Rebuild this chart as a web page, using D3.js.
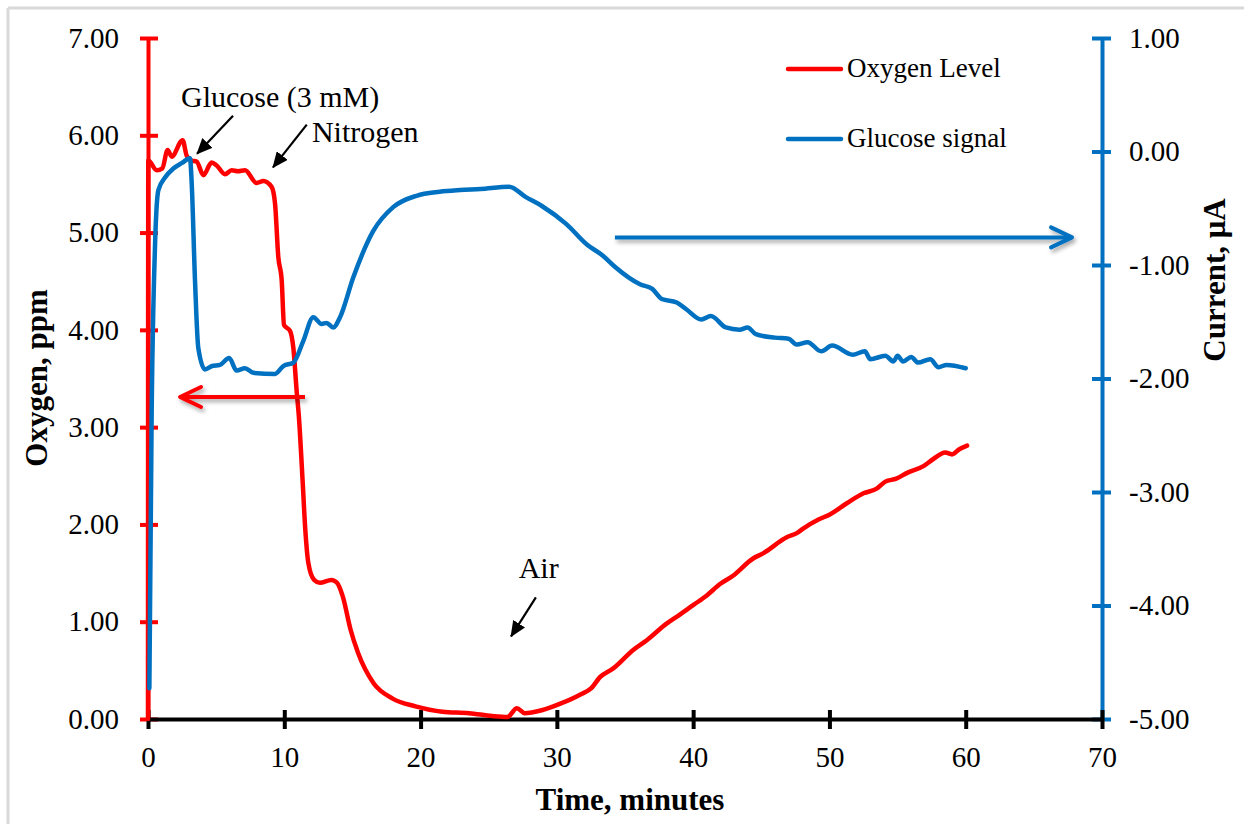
<!DOCTYPE html>
<html>
<head>
<meta charset="utf-8">
<script src="https://cdn.jsdelivr.net/npm/d3@7"></script>
<style>
  body { margin: 0; background: #fff; }
  svg { display: block; font-family: "Liberation Serif", "Times New Roman", serif; }
</style>
</head>
<body>
<div id="chart"></div>
<script>
var w = 1244;
var h = 824;

// oxygen level (ppm), left axis
var oxyTime = [0, 0.02, 0.64, 1.05, 1.44, 1.74, 2.54, 2.84, 3.2, 3.57, 4.06, 4.67, 5.04, 5.65, 6.14, 6.6, 7.12,
    7.97, 8.46, 9.07, 9.32, 9.56, 9.81, 9.98, 10.42, 10.66, 10.92, 11.06, 11.34, 11.54, 11.77, 12.19, 12.61,
    13.46, 13.87, 14.29, 14.86, 15.41, 16.54, 17.95, 19.63, 21.6, 23.56, 25.25, 26.37, 27.07, 27.63, 28.89,
    30.3, 31.7, 32.55, 33.16, 34.14, 35.6, 36.6, 38.05, 39.0, 40.0, 41.0, 42.0, 42.9, 44.4, 45.1, 46.9, 47.6,
    48.1, 49.2, 50.0, 51.3, 52.5, 53.5, 54.1, 54.9, 55.7, 56.9, 57.6, 58.5, 59.0, 59.5, 60.1];
var oxyLevel = [0, 5.74, 5.64, 5.66, 5.85, 5.78, 5.95, 5.79, 5.74, 5.73, 5.59, 5.72, 5.69, 5.6, 5.64, 5.63, 5.64,
    5.51, 5.53, 5.47, 5.3, 4.75, 4.51, 4.05, 3.99, 3.82, 3.35, 3.13, 2.46, 1.95, 1.6, 1.43, 1.40,
    1.43, 1.40, 1.26, 0.92, 0.68, 0.37, 0.21, 0.13, 0.075, 0.06, 0.03, 0.02, 0.11, 0.06, 0.09,
    0.16, 0.25, 0.32, 0.43, 0.52, 0.71, 0.81, 0.98, 1.07, 1.17, 1.27, 1.39, 1.47, 1.65, 1.70, 1.87, 1.91,
    1.96, 2.05, 2.10, 2.22, 2.32, 2.37, 2.44, 2.47, 2.53, 2.60, 2.67, 2.74, 2.72, 2.77, 2.81];

// glucose signal current (uA), right axis
var glucTime = [0.1, 0.27, 0.51, 0.76, 1.25, 1.86, 2.5, 3.08, 3.2, 3.45, 3.69, 4.18, 4.7, 5.28, 5.96, 6.5, 7.12,
    7.73, 9.32, 9.93, 10.67, 11.39, 12.13, 12.74, 13.1, 13.59, 14.09, 15.06, 16.53, 17.99, 19.7, 21.4, 22.9,
    24.4, 26.5, 27.7, 28.9, 30.7, 32.2, 33.4, 34.3, 36.1, 37.0, 37.7, 38.8, 39.5, 40.6, 41.3, 42.4, 43.4,
    44.0, 44.6, 46.0, 47.0, 47.6, 48.4, 49.4, 50.2, 51.7, 52.6, 53.0, 54.1, 54.7, 55.0, 55.4, 56.0, 56.5,
    57.4, 58.0, 58.6, 60.0];
var glucCurrent = [-4.73, -2.29, -0.85, -0.34, -0.23, -0.15, -0.10, -0.06, -0.26, -1.14, -1.73, -1.92, -1.89, -1.88, -1.82, -1.93, -1.91,
    -1.95, -1.96, -1.89, -1.86, -1.67, -1.46, -1.52, -1.51, -1.55, -1.46, -1.11, -0.70, -0.49, -0.39, -0.355, -0.34,
    -0.33, -0.31, -0.40, -0.48, -0.64, -0.82, -0.92, -1.02, -1.17, -1.21, -1.30, -1.33, -1.39, -1.48, -1.45, -1.55, -1.57,
    -1.55, -1.61, -1.64, -1.65, -1.70, -1.68, -1.76, -1.71, -1.79, -1.76, -1.83, -1.80, -1.85, -1.80, -1.85, -1.81, -1.86,
    -1.83, -1.90, -1.88, -1.91];

var xTicks = [0, 10, 20, 30, 40, 50, 60, 70];
var leftTicks = [0, 1, 2, 3, 4, 5, 6, 7];
var rightTicks = [1, 0, -1, -2, -3, -4, -5];

var seriesNames = ["Oxygen Level", "Glucose signal"];
var seriesColors = ["#ff0000", "#0070c0"];

// annotation labels with arrows, in data units (left axis)
var noteText = ["Glucose (3 mM)", "Nitrogen", "Air"];
var noteTextPos = [[2.42, 6.29], [12.03, 5.93], [27.2, 1.45]];
var noteArrowFrom = [[6.24, 6.20], [11.65, 6.11], [28.46, 1.25]];
var noteArrowTo = [[3.6, 5.81], [9.17, 5.67], [26.64, 0.85]];

var serif = "'Liberation Serif', 'Times New Roman', serif";

// plain hyphen for negatives, like the original
function fmt2(d) { return d.toFixed(2); }

function styleTicks(g) {
    g.attr("font-family", serif).attr("font-size", 29);
    g.selectAll(".tick text")
        .style("font-family", serif)
        .style("font-size", "29px")
        .attr("fill", "#000");
}

var svg = d3.select("#chart")
    .append("svg")
    .attr("width", w)
    .attr("height", h);

var defs = svg.append("defs");
defs.append("marker")
    .attr("id", "headBlack")
    .attr("markerUnits", "userSpaceOnUse")
    .attr("viewBox", "0 -7 16 14")
    .attr("refX", 15)
    .attr("refY", 0)
    .attr("markerWidth", 16)
    .attr("markerHeight", 14)
    .attr("orient", "auto")
    .append("path")
    .attr("d", "M0,-7L16,0L0,7Z")
    .attr("fill", "#000");

var shadow = defs.append("filter")
    .attr("id", "shadow")
    .attr("x", "-10%").attr("y", "-100%")
    .attr("width", "120%").attr("height", "300%");
shadow.append("feDropShadow")
    .attr("dx", 2).attr("dy", 3)
    .attr("stdDeviation", 2)
    .attr("flood-color", "#000")
    .attr("flood-opacity", 0.35);

// frame edge of the original picture
svg.append("line")
    .attr("x1", 8).attr("y1", 8).attr("x2", 8).attr("y2", h)
    .attr("stroke", "#d9d9d9").attr("stroke-width", 3);
svg.append("line")
    .attr("x1", 8).attr("y1", 8).attr("x2", w).attr("y2", 8)
    .attr("stroke", "#d9d9d9").attr("stroke-width", 3);

var xScale = d3.scaleLinear().domain([0, 70]).range([148, 1102]);
var yLeft = d3.scaleLinear().domain([0, 7]).range([719, 38]);
var yRight = d3.scaleLinear().domain([-5, 1]).range([719, 38]);

// left axis
var gLeft = svg.append("g")
    .attr("transform", "translate(148,0)")
    .call(d3.axisLeft(yLeft).tickValues(leftTicks).tickFormat(fmt2)
        .tickSize(0).tickSizeOuter(0).tickPadding(29));
styleTicks(gLeft);
gLeft.select(".domain").attr("stroke", "#ff0000").attr("stroke-width", 4);
gLeft.selectAll(".tick").append("line")
    .attr("x1", -8).attr("x2", 10)
    .attr("stroke", "#ff0000").attr("stroke-width", 4);

// right axis
var gRight = svg.append("g")
    .attr("transform", "translate(1102,0)")
    .call(d3.axisRight(yRight).tickValues(rightTicks).tickFormat(fmt2)
        .tickSize(0).tickSizeOuter(0).tickPadding(27));
styleTicks(gRight);
gRight.select(".domain").attr("stroke", "#0070c0").attr("stroke-width", 4);
gRight.selectAll(".tick").append("line")
    .attr("x1", -10).attr("x2", 9)
    .attr("stroke", "#0070c0").attr("stroke-width", 4);

// bottom axis
var gX = svg.append("g")
    .attr("transform", "translate(0,719)")
    .call(d3.axisBottom(xScale).tickValues(xTicks).tickFormat(d3.format("d"))
        .tickSize(0).tickSizeOuter(0).tickPadding(27));
styleTicks(gX);
gX.select(".domain").attr("stroke", "#000").attr("stroke-width", 4);
gX.selectAll(".tick").append("line")
    .attr("y1", -9).attr("y2", 10)
    .attr("stroke", "#000").attr("stroke-width", 4);

// axis titles
svg.append("text")
    .attr("transform", "translate(47,378) rotate(-90)")
    .attr("text-anchor", "middle")
    .style("font-size", "31px").style("font-weight", "bold")
    .text("Oxygen, ppm");
svg.append("text")
    .attr("transform", "translate(1225,280) rotate(-90)")
    .attr("text-anchor", "middle")
    .style("font-size", "31px").style("font-weight", "bold")
    .text("Current, μA");
svg.append("text")
    .attr("x", 630).attr("y", 810)
    .attr("text-anchor", "middle")
    .style("font-size", "31px").style("font-weight", "bold")
    .text("Time, minutes");

// series
var oxyData = oxyTime.map(function(t, i) { return {t: t, v: oxyLevel[i]}; });
var glucData = glucTime.map(function(t, i) { return {t: t, v: glucCurrent[i]}; });

svg.append("path")
    .datum(oxyData)
    .attr("fill", "none")
    .attr("stroke", seriesColors[0])
    .attr("stroke-width", 4.5)
    .attr("stroke-linejoin", "round")
    .attr("stroke-linecap", "round")
    .attr("d", d3.line()
        .curve(d3.curveMonotoneX)
        .x(function(d) { return xScale(d.t); })
        .y(function(d) { return yLeft(d.v); }));

svg.append("path")
    .datum(glucData)
    .attr("fill", "none")
    .attr("stroke", seriesColors[1])
    .attr("stroke-width", 4.5)
    .attr("stroke-linejoin", "round")
    .attr("stroke-linecap", "round")
    .attr("d", d3.line()
        .curve(d3.curveMonotoneX)
        .x(function(d) { return xScale(d.t); })
        .y(function(d) { return yRight(d.v); }));

// axis pointer arrows (red -> left axis, blue -> right axis)
function bigArrow(x1, x2, y, color, dir) {
    var g = svg.append("g").attr("filter", "url(#shadow)");
    g.append("line")
        .attr("x1", x1).attr("y1", y).attr("x2", x2).attr("y2", y)
        .attr("stroke", color).attr("stroke-width", 4);
    g.append("path")
        .attr("d", "M" + (x2 - dir * 21) + "," + (y - 10) + "L" + x2 + "," + y + "L" + (x2 - dir * 21) + "," + (y + 10))
        .attr("fill", "none")
        .attr("stroke", color).attr("stroke-width", 4)
        .attr("stroke-linecap", "round").attr("stroke-linejoin", "round");
}
bigArrow(xScale(11.52), xScale(2.35), yLeft(3.31), seriesColors[0], -1);
bigArrow(xScale(34.26), xScale(67.8), yRight(-0.757), seriesColors[1], 1);

// annotations
noteText.forEach(function(txt, i) {
    svg.append("text")
        .attr("x", xScale(noteTextPos[i][0]))
        .attr("y", yLeft(noteTextPos[i][1]))
        .style("font-size", "30px")
        .text(txt);
    svg.append("line")
        .attr("x1", xScale(noteArrowFrom[i][0]))
        .attr("y1", yLeft(noteArrowFrom[i][1]))
        .attr("x2", xScale(noteArrowTo[i][0]))
        .attr("y2", yLeft(noteArrowTo[i][1]))
        .attr("stroke", "#000")
        .attr("stroke-width", 2.2)
        .attr("marker-end", "url(#headBlack)");
});

// legend
var legend = svg.append("g").attr("transform", "translate(788,69)");
seriesNames.forEach(function(name, i) {
    legend.append("line")
        .attr("x1", 0).attr("x2", 53)
        .attr("y1", i * 70).attr("y2", i * 70)
        .attr("stroke", seriesColors[i])
        .attr("stroke-width", 4.5)
        .attr("stroke-linecap", "round");
    legend.append("text")
        .attr("x", 59)
        .attr("y", i * 70 + 8)
        .style("font-size", "27px")
        .text(name);
});
</script>
</body>
</html>
